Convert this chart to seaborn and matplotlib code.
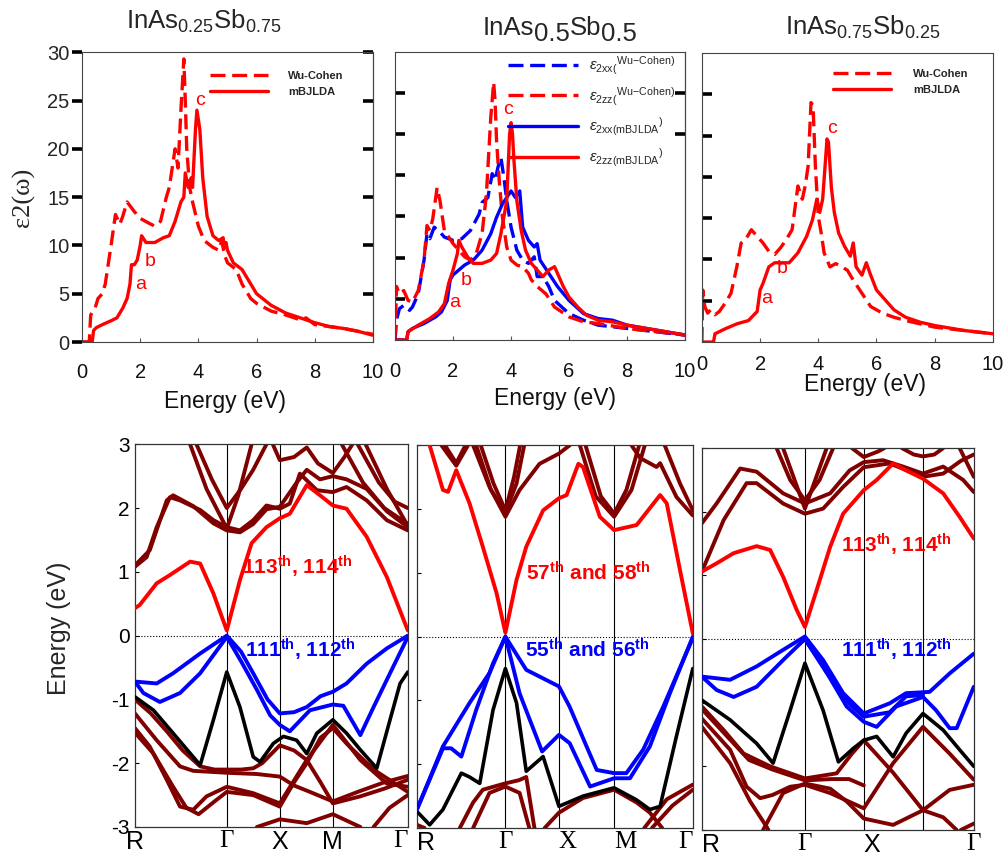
import matplotlib
matplotlib.use("Agg")
import matplotlib.pyplot as plt
import seaborn as sns

sns.set_theme(style="ticks")
plt.rcParams["font.family"] = ["Liberation Sans", "DejaVu Sans"]
plt.rcParams["mathtext.fontset"] = "custom"
plt.rcParams["mathtext.rm"] = "Liberation Sans"
plt.rcParams["mathtext.it"] = "Liberation Sans:italic"
plt.rcParams["mathtext.bf"] = "Liberation Sans:bold"

RED, BLUE, MAROON, BLACK = "#ff0000", "#0000ff", "#800000", "#000000"

# ---------------- imaginary dielectric function eps2(w) ----------------
# InAs0.25Sb0.75
x25_mbj_E = [0, 0.35, 0.4, 0.5, 0.7, 1.0, 1.2, 1.4, 1.55, 1.65, 1.7, 1.8, 1.9, 2.0, 2.05, 2.2, 2.5, 2.8, 3.0,
             3.2, 3.4, 3.5, 3.55, 3.65, 3.75, 3.8, 3.9, 3.95, 4.05, 4.15, 4.3, 4.5, 4.7, 4.85, 4.9, 4.95, 5.0,
             5.2, 5.5, 5.8, 6.0, 6.5, 7.0, 7.5, 8.0, 8.5, 9.0, 9.5, 10.0]
x25_mbj_eps = [0, 0, 1.2, 1.5, 1.8, 2.2, 2.5, 3.5, 4.5, 6.0, 8.0, 8.0, 8.5, 10.0, 11.0, 10.3, 10.3, 10.8, 11.0,
               12.5, 14.5, 15.0, 17.5, 16.0, 17.0, 16.0, 22.0, 24.0, 22.0, 17.0, 13.0, 11.0, 10.5, 10.8, 9.8,
               10.3, 9.5, 8.2, 7.5, 6.0, 5.0, 3.8, 3.0, 2.5, 2.0, 1.6, 1.4, 1.1, 0.7]
x25_wc_E = [0, 0.25, 0.3, 0.45, 0.55, 0.7, 0.8, 1.0, 1.15, 1.3, 1.4, 1.55, 1.8, 2.0, 2.3, 2.5, 2.7, 2.9, 3.0,
            3.2, 3.3, 3.4, 3.5, 3.55, 3.6, 3.7, 3.8, 4.0, 4.2, 4.5, 4.7, 4.8, 4.9, 5.0, 5.3, 5.5, 5.8, 6.0,
            6.5, 7.0, 7.5, 7.7, 8.0, 9.0, 10.0]
x25_wc_eps = [0, 0, 2.8, 3.5, 4.5, 5.0, 6.0, 10.0, 13.2, 12.2, 13.0, 14.5, 13.5, 12.8, 12.3, 12.0, 12.5, 15.0,
              16.0, 20.0, 18.0, 24.0, 29.3, 25.0, 20.0, 16.0, 14.5, 12.0, 10.5, 9.8, 9.5, 10.5, 9.0, 8.2, 7.5,
              6.0, 4.5, 4.0, 3.2, 2.8, 2.3, 2.5, 1.8, 1.4, 0.8]

# InAs0.5Sb0.5
x50_xx_wc_E = [0, 0.05, 0.15, 0.3, 0.5, 0.6, 0.8, 1.0, 1.1, 1.2, 1.35, 1.5, 1.7, 2.0, 2.3, 2.6, 2.9, 3.0, 3.2,
               3.35, 3.45, 3.55, 3.65, 3.75, 3.85, 4.0, 4.2, 4.4, 4.6, 4.8, 4.9, 5.1, 5.3, 5.5, 6.0, 6.5, 7.0,
               8.0, 9.0, 10.0]
x50_xx_wc_eps = [0, 2.4, 3.8, 4.2, 3.6, 4.0, 5.6, 9.7, 12.9, 12.3, 13.7, 13.3, 12.5, 12.1, 12.3, 13.3, 15.3,
                 16.7, 17.3, 20.2, 19.4, 21.0, 22.2, 19.8, 17.0, 13.7, 10.9, 9.7, 9.3, 10.1, 7.7, 7.7, 6.5,
                 4.8, 3.2, 2.4, 1.8, 1.4, 1.0, 0.6]
x50_zz_wc_E = [0, 0.05, 0.15, 0.3, 0.45, 0.6, 0.8, 1.0, 1.1, 1.2, 1.3, 1.45, 1.55, 1.7, 2.0, 2.2, 2.4, 2.6,
               2.8, 3.0, 3.15, 3.3, 3.4, 3.45, 3.5, 3.6, 3.7, 3.85, 4.0, 4.2, 4.4, 4.6, 4.7, 4.9, 5.2, 5.5,
               6.0, 6.5, 7.0, 8.0, 9.0, 10.0]
x50_zz_wc_eps = [0, 6.5, 5.6, 6.0, 4.8, 4.6, 6.0, 9.7, 13.9, 13.3, 14.7, 18.5, 16.9, 13.3, 11.7, 10.9, 10.1,
                 9.7, 10.5, 12.9, 17.7, 27.0, 31.3, 29.0, 24.2, 19.0, 15.0, 11.3, 9.7, 9.1, 8.9, 8.1, 7.3,
                 6.5, 5.6, 4.0, 2.8, 2.2, 2.0, 1.4, 1.0, 0.6]
x50_xx_mbj_E = [0, 0.4, 0.45, 0.6, 1.0, 1.4, 1.6, 1.8, 1.9, 2.0, 2.2, 2.4, 2.7, 3.0, 3.3, 3.5, 3.7, 3.85, 4.0,
                4.15, 4.3, 4.4, 4.6, 4.8, 4.9, 5.0, 5.3, 5.6, 6.0, 6.5, 7.0, 7.5, 8.0, 9.0, 10.0]
x50_xx_mbj_eps = [0, 0, 1.0, 1.4, 2.0, 2.8, 3.4, 4.8, 7.3, 7.9, 8.5, 9.1, 9.7, 10.9, 12.9, 14.9, 16.5, 17.3,
                  18.1, 17.3, 18.1, 13.7, 12.1, 11.3, 11.7, 9.7, 8.1, 6.5, 4.8, 3.2, 2.6, 2.4, 1.8, 1.2, 0.6]
x50_zz_mbj_E = [0, 0.4, 0.45, 0.8, 1.2, 1.5, 1.7, 1.85, 2.0, 2.15, 2.2, 2.3, 2.5, 2.7, 3.0, 3.3, 3.5, 3.65,
                3.75, 3.85, 3.9, 3.95, 4.0, 4.05, 4.1, 4.2, 4.35, 4.5, 4.7, 4.9, 5.1, 5.3, 5.5, 5.6, 5.8, 6.0,
                6.3, 6.6, 7.0, 7.5, 8.0, 9.0, 10.0]
x50_zz_mbj_eps = [0, 0, 1.0, 1.8, 2.6, 3.4, 4.4, 6.9, 8.5, 10.5, 12.1, 11.3, 10.1, 9.3, 9.3, 9.7, 10.5, 12.9,
                  14.9, 16.9, 21.0, 25.0, 26.4, 25.0, 21.8, 16.9, 13.3, 10.9, 9.3, 8.5, 7.7, 8.5, 8.9, 8.1,
                  6.5, 5.2, 4.0, 3.0, 2.4, 2.2, 1.8, 1.2, 0.6]

# InAs0.75Sb0.25
x75_wc_E = [0, 0.03, 0.1, 0.2, 0.3, 0.45, 0.6, 0.8, 1.0, 1.2, 1.35, 1.5, 1.7, 1.9, 2.1, 2.3, 2.5, 2.7, 2.9,
            3.1, 3.3, 3.45, 3.55, 3.65, 3.75, 3.82, 3.9, 4.0, 4.1, 4.2, 4.4, 4.6, 4.8, 5.0, 5.2, 5.5, 5.8, 6.2,
            6.6, 7.0, 8.0, 9.0, 10.0]
x75_wc_eps = [0, 6.3, 4.3, 3.5, 3.9, 3.3, 3.7, 4.7, 5.9, 9.1, 12.0, 12.4, 13.6, 12.8, 12.0, 11.0, 10.6, 11.4,
              12.4, 13.6, 18.9, 17.3, 18.9, 21.3, 29.0, 28.6, 21.3, 15.2, 13.2, 10.8, 9.1, 9.5, 9.1, 8.7, 7.5,
              5.9, 4.3, 3.5, 3.0, 2.6, 1.8, 1.4, 1.0]
x75_mbj_E = [0, 0.4, 0.45, 0.8, 1.2, 1.6, 1.9, 2.0, 2.1, 2.3, 2.5, 2.7, 3.0, 3.3, 3.6, 3.8, 3.95, 4.05, 4.15,
             4.2, 4.3, 4.35, 4.45, 4.55, 4.7, 4.9, 5.1, 5.2, 5.3, 5.5, 5.65, 5.8, 6.0, 6.3, 6.6, 7.0, 7.5, 8.0,
             9.0, 10.0]
x75_mbj_eps = [0, 0, 1.0, 1.6, 2.2, 2.6, 3.7, 6.3, 7.1, 9.1, 9.6, 9.6, 9.6, 10.8, 12.8, 14.8, 17.3, 15.7,
               17.3, 19.7, 24.6, 24.2, 18.7, 15.7, 13.2, 11.6, 10.4, 12.0, 9.1, 8.1, 9.6, 8.1, 6.3, 5.1, 3.9,
               3.0, 2.4, 2.0, 1.4, 1.0]

# ---------------- band structures (k, E) ----------------
k_nodes_25 = [0, 1.732, 2.732, 3.732, 5.146]
k_labels_25 = ["R", "Γ", "X", "M", "Γ"]
bs25_red = [[(0, 0.43), (0.09, 0.48), (0.41, 0.82), (0.66, 0.95), (1.04, 1.16), (1.23, 1.13), (1.48, 0.66),
             (1.732, 0.08), (1.98, 0.87), (2.2, 1.45), (2.48, 1.70), (2.732, 1.84), (2.92, 1.91), (3.24, 2.36),
             (3.49, 2.20), (3.732, 2.04), (3.99, 1.99), (4.37, 1.55), (4.75, 0.92), (5.146, 0.08)]]
bs25_blue = [[(0, -0.72), (0.41, -0.75), (0.72, -0.59), (1.23, -0.28), (1.732, 0.0), (2.0, -0.25), (2.23, -0.59),
              (2.5, -1.0), (2.732, -1.22), (3.0, -1.2), (3.24, -1.12), (3.5, -0.95), (3.732, -0.88),
              (3.99, -0.75), (4.37, -0.44), (4.75, -0.2), (5.146, 0.0)],
             [(0, -0.72), (0.16, -0.9), (0.47, -1.04), (0.85, -0.9), (1.23, -0.59), (1.732, -0.02), (2.0, -0.4),
              (2.3, -0.85), (2.55, -1.25), (2.732, -1.40), (2.92, -1.50), (3.3, -1.17), (3.732, -1.08),
              (3.93, -1.10), (4.25, -1.56), (4.5, -1.12), (4.81, -0.59), (5.146, -0.02)]]
bs25_black = [[(0, -0.96), (0.35, -1.17), (0.72, -1.53), (1.23, -2.03), (1.48, -1.32), (1.732, -0.57),
               (1.98, -1.12), (2.23, -1.9), (2.36, -1.98), (2.61, -1.69), (2.8, -1.58), (3.05, -1.64),
               (3.24, -1.85), (3.43, -1.53), (3.732, -1.32), (3.99, -1.53), (4.25, -1.79), (4.56, -2.08),
               (4.81, -1.32), (5.0, -0.75), (5.146, -0.57)]]
bs25_maroon = [
    [(0, 1.08), (0.22, 1.23), (0.41, 1.7), (0.66, 2.17), (0.85, 2.12), (1.23, 1.97), (1.48, 1.81), (1.732, 1.70),
     (1.98, 1.65), (2.23, 1.81), (2.48, 2.04), (2.732, 1.99), (2.92, 2.07), (3.11, 2.54), (3.43, 2.28),
     (3.732, 2.25), (3.99, 2.33), (4.37, 2.12), (4.75, 1.81), (5.146, 1.65)],
    [(0, 1.1), (0.28, 1.34), (0.6, 2.12), (0.72, 2.2), (1.1, 2.03), (1.48, 1.76), (1.732, 1.65), (1.98, 1.62),
     (2.23, 1.75), (2.48, 1.98), (2.732, 2.02), (3.05, 2.4), (3.24, 2.6), (3.49, 2.45), (3.732, 2.5),
     (3.99, 2.45), (4.37, 2.3), (4.75, 1.95), (5.146, 1.7)],
    [(1.16, 3.0), (1.45, 2.45), (1.732, 2.0), (2.0, 2.3), (2.23, 2.6), (2.48, 3.0)],
    [(1.04, 3.0), (1.35, 2.3), (1.732, 1.68), (1.95, 2.2), (2.2, 3.0)],
    [(2.6, 3.0), (2.732, 2.75), (3.0, 2.8), (3.24, 2.95), (3.45, 2.7), (3.732, 2.55), (3.95, 2.8), (4.1, 3.0)],
    [(4.2, 3.0), (4.6, 2.4), (4.9, 2.1), (5.146, 2.0)],
    [(4.35, 3.0), (4.75, 2.3), (5.146, 1.72)],
    [(3.9, 3.0), (4.3, 2.4), (4.7, 2.0), (5.146, 1.75)],
    [(0, -1.0), (0.3, -1.22), (0.6, -1.5), (0.9, -1.8), (1.23, -2.05), (1.5, -2.1), (1.732, -2.1), (2.0, -2.1),
     (2.23, -2.08), (2.4, -2.0), (2.732, -1.72), (3.0, -1.8), (3.24, -1.95), (3.5, -2.3), (3.732, -2.63),
     (4.25, -2.52), (4.7, -2.4), (5.146, -2.26)],
    [(0, -1.22), (0.41, -1.64), (0.85, -2.05), (1.1, -2.12), (1.732, -2.15), (2.3, -2.17), (2.732, -2.21),
     (3.0, -2.35), (3.3, -2.45), (3.732, -2.6), (4.2, -2.45), (4.7, -2.3), (5.146, -2.2)],
    [(0, -1.45), (0.28, -1.74), (0.6, -2.26), (0.85, -2.68), (1.1, -2.73), (1.35, -2.52), (1.732, -2.37),
     (2.23, -2.47), (2.732, -2.63), (3.24, -1.95), (3.732, -1.4), (4.25, -1.95), (4.75, -2.32), (5.146, -2.37)],
    [(0, -1.52), (0.35, -1.85), (0.72, -2.37), (0.97, -2.7), (1.2, -2.8), (1.5, -2.6), (1.732, -2.45),
     (2.23, -2.5), (2.732, -2.68), (3.0, -2.3), (3.24, -2.0), (3.5, -1.6), (3.732, -1.45), (4.0, -1.7),
     (4.5, -2.1), (5.146, -2.45)],
    [(2.3, -3.0), (2.732, -2.88), (3.24, -2.94), (3.732, -2.8), (4.25, -3.0)],
    [(4.5, -3.0), (4.8, -2.7), (5.146, -2.5)],
]

k_nodes_50 = [0, 1.732, 2.78, 3.86, 5.40]
k_labels_50 = ["R", "Γ", "X", "M", "Γ"]
bs50_red = [[(0.25, 3.0), (0.51, 2.3), (0.61, 2.27), (0.77, 2.61), (1.03, 2.09), (1.29, 1.41), (1.56, 0.68),
             (1.732, 0.06), (1.95, 0.89), (2.14, 1.41), (2.47, 1.98), (2.78, 2.17), (2.93, 2.22), (3.16, 2.71),
             (3.25, 2.66), (3.58, 1.88), (3.86, 1.67), (4.3, 1.75), (4.76, 2.22), (4.89, 2.09), (5.15, 1.04),
             (5.40, 0.05)]]
bs50_blue = [[(0, -2.71), (0.25, -2.24), (0.51, -1.75), (0.67, -1.75), (0.87, -1.88), (1.16, -1.15),
              (1.49, -0.42), (1.732, 0.0), (2.14, -0.52), (2.78, -0.78), (2.99, -1.1), (3.32, -1.72),
              (3.52, -2.09), (3.86, -2.14), (4.1, -2.14), (4.43, -1.77), (4.82, -1.1), (5.40, -0.02)],
             [(0, -2.71), (0.51, -1.72), (1.03, -1.04), (1.42, -0.57), (1.732, 0.0), (2.01, -0.89), (2.45, -1.8),
              (2.78, -1.54), (2.99, -1.67), (3.39, -2.35), (3.86, -2.22), (4.17, -2.22), (4.56, -1.72),
              (4.95, -0.89), (5.40, 0.0)]]
bs50_black = [[(0, -2.74), (0.25, -2.95), (0.51, -2.71), (0.87, -2.14), (1.03, -2.2), (1.23, -2.3), (1.49, -1.15),
               (1.732, -0.5), (1.95, -1.04), (2.14, -2.11), (2.47, -1.88), (2.78, -2.66), (3.25, -2.5),
               (3.86, -2.37), (4.3, -2.56), (4.56, -2.71), (4.76, -2.66), (5.08, -1.56), (5.40, -0.5)]]
bs50_maroon = [
    [(1.1, 3.0), (1.42, 2.35), (1.732, 1.88), (2.01, 2.3), (2.4, 2.71), (2.78, 2.87), (2.99, 3.0)],
    [(1.16, 3.0), (1.45, 2.3), (1.732, 1.95), (1.95, 2.4), (2.1, 3.0)],
    [(1.25, 3.0), (1.5, 2.4), (1.732, 1.98), (1.9, 2.5), (2.02, 3.0)],
    [(3.19, 3.0), (3.5, 2.2), (3.86, 1.88), (4.2, 2.3), (4.46, 3.0)],
    [(3.3, 3.0), (3.6, 2.2), (3.86, 1.93), (4.1, 2.3), (4.35, 3.0)],
    [(0.48, 3.0), (0.77, 2.68), (1.0, 3.0)],
    [(0.55, 3.0), (0.77, 2.72), (0.95, 3.0)],
    [(4.2, 3.0), (4.37, 2.8), (4.69, 2.66), (4.76, 2.72), (5.08, 2.19), (5.40, 1.9)],
    [(4.85, 3.0), (5.15, 2.4), (5.40, 1.98)],
    [(0.84, -3.0), (1.1, -2.6), (1.29, -2.4), (1.732, -2.3), (2.0, -2.25), (2.14, -2.2), (2.3, -3.0)],
    [(1.1, -3.0), (1.42, -2.45), (1.732, -2.35), (2.01, -2.45), (2.2, -3.0)],
    [(2.5, -3.0), (2.78, -2.76), (3.25, -2.53), (3.86, -2.4), (4.3, -2.6), (4.56, -2.76), (4.8, -3.0)],
    [(4.45, -3.0), (4.89, -2.55), (5.40, -2.32)],
    [(4.6, -3.0), (5.0, -2.65), (5.40, -2.4)],
    [(0, -2.95), (0.15, -3.0)],
]

k_nodes_75 = [0, 1.751, 2.751, 3.757, 4.62]
k_labels_75 = ["R", "Γ", "X", "", "Γ"]
bs75_red = [[(0, 1.06), (0.25, 1.19), (0.54, 1.35), (0.93, 1.46), (1.16, 1.4), (1.38, 0.98), (1.61, 0.46),
             (1.751, 0.19), (1.95, 0.77), (2.18, 1.45), (2.4, 1.97), (2.751, 2.34), (2.97, 2.5), (3.25, 2.76),
             (3.47, 2.65), (3.757, 2.52), (4.1, 2.29), (4.38, 1.92), (4.62, 1.58)]]
bs75_blue = [[(0, -0.59), (0.48, -0.64), (0.93, -0.43), (1.38, -0.17), (1.751, 0.04), (2.06, -0.33), (2.4, -0.85),
              (2.751, -1.17), (3.19, -1.01), (3.47, -0.85), (3.87, -0.83), (4.21, -0.54), (4.62, -0.23)],
             [(0, -0.59), (0.25, -0.8), (0.54, -0.91), (0.93, -0.75), (1.38, -0.33), (1.751, 0.0), (2.06, -0.43),
              (2.46, -1.06), (2.751, -1.3), (2.97, -1.38), (3.3, -1.06), (3.757, -0.91), (3.98, -1.12),
              (4.21, -1.4), (4.33, -1.4), (4.62, -0.75)],
             [(1.751, 0.0), (2.1, -0.5), (2.46, -0.98), (2.751, -1.22), (3.19, -1.15), (3.47, -0.9),
              (3.757, -0.88)]]
bs75_black = [[(0, -0.96), (0.48, -1.27), (0.93, -1.64), (1.21, -1.95), (1.5, -1.12), (1.751, -0.38),
               (2.06, -1.12), (2.32, -1.93), (2.57, -1.72), (2.751, -1.59), (2.97, -1.53), (3.25, -1.85),
               (3.47, -1.48), (3.757, -1.17), (4.1, -1.43), (4.38, -1.74), (4.62, -2.0)]]
bs75_maroon = [
    [(0, 1.82), (0.25, 2.13), (0.65, 2.68), (0.93, 2.63), (1.38, 2.29), (1.751, 2.13), (2.18, 2.29),
     (2.51, 2.65), (2.751, 2.78), (3.08, 2.81), (3.42, 2.71), (3.757, 2.6), (4.1, 2.71), (4.44, 2.5),
     (4.62, 2.31)],
    [(0, 1.06), (0.37, 1.87), (0.76, 2.45), (0.93, 2.45), (1.38, 2.13), (1.751, 1.97), (2.06, 2.05),
     (2.4, 2.39), (2.751, 2.7), (3.19, 2.76), (3.757, 2.55), (4.1, 2.6), (4.4, 2.8), (4.62, 2.9)],
    [(1.27, 3.0), (1.5, 2.5), (1.751, 2.18), (2.0, 2.5), (2.23, 3.0)],
    [(1.38, 3.0), (1.751, 2.05), (2.12, 3.0)],
    [(3.4, 3.0), (3.6, 2.9), (3.757, 2.87), (3.95, 2.9), (4.1, 3.0)],
    [(4.38, 3.0), (4.62, 2.55)],
    [(2.55, 3.0), (2.751, 2.86), (3.0, 2.95), (3.1, 3.0)],
    [(0, -1.06), (0.37, -1.43), (0.71, -1.8), (1.16, -2.0), (1.751, -2.19), (2.29, -2.11), (2.55, -1.8),
     (2.751, -1.59), (3.25, -2.1), (3.757, -2.69), (4.1, -2.8), (4.33, -3.0)],
    [(0, -1.25), (0.48, -1.74), (0.76, -2.32), (0.99, -2.5), (1.2, -2.45), (1.5, -2.32), (1.751, -2.29),
     (2.18, -2.42), (2.751, -2.66), (3.25, -1.95), (3.757, -1.38), (4.21, -1.8), (4.62, -2.21)],
    [(0, -1.38), (0.48, -1.95), (0.82, -2.55), (1.1, -2.95), (1.13, -3.0)],
    [(1.04, -3.0), (1.38, -2.42), (1.751, -2.27), (2.18, -2.35), (2.46, -2.55), (2.751, -2.82), (3.25, -2.92),
     (3.757, -2.69), (4.21, -2.37), (4.62, -2.29)],
    [(0, -1.1), (0.4, -1.5), (0.8, -1.9), (1.2, -2.05), (1.751, -2.22), (2.2, -2.2), (2.5, -2.2),
     (2.751, -2.3)],
    [(4.4, -3.0), (4.62, -2.9)],
]

# ---------------- figure ----------------
fig = plt.figure(figsize=(10.07, 8.6), dpi=100)
ax1 = fig.add_axes([0.0814, 0.6023, 0.289, 0.337])
ax2 = fig.add_axes([0.3923, 0.6047, 0.288, 0.335])
ax3 = fig.add_axes([0.697, 0.6023, 0.289, 0.336])
ax4 = fig.add_axes([0.134, 0.0384, 0.271, 0.445])
ax5 = fig.add_axes([0.414, 0.0372, 0.274, 0.445])
ax6 = fig.add_axes([0.697, 0.0349, 0.270, 0.444])

DASH = (0, (4.5, 2.0))


def spectrum(ax, E, eps, color, dashed):
    sns.lineplot(x=E, y=eps, ax=ax, color=color, linewidth=2.4, sort=False, estimator=None,
                 linestyle=DASH if dashed else "-", legend=False)
    return ax.lines[-1]


def style_spectrum(ax, ylim, yticks, labels, xpad, xlabel_xy, ydir):
    ax.set_xlim(0, 10)
    ax.set_ylim(*ylim)
    ax.set_xticks([0, 2, 4, 6, 8, 10])
    ax.set_xticklabels(["0", "2", "4", "6", "8", "10"])
    ax.set_yticks(yticks)
    if labels:
        ax.set_yticklabels([str(t) for t in yticks])
    else:
        ax.set_yticklabels([])
    ax.tick_params(axis="x", direction="in", length=3, width=0.8, color="#555555", pad=xpad,
                   labelsize=14.5, labelcolor="#111111")
    ax.tick_params(axis="y", direction=ydir, length=7, width=2.6, pad=2, labelsize=14.5, color="black")
    for s in ax.spines.values():
        s.set_color("#444444")
        s.set_linewidth(0.8)
    ax.set_xlabel("Energy (eV)", fontsize=16.5, color="#111111")
    ax.xaxis.set_label_coords(*xlabel_xy)
    ax.set_ylabel("")


# InAs0.25Sb0.75 spectrum
h_wc = spectrum(ax1, x25_wc_E, x25_wc_eps, RED, True)
h_mbj = spectrum(ax1, x25_mbj_E, x25_mbj_eps, RED, False)
style_spectrum(ax1, (0, 30), [0, 5, 10, 15, 20, 25, 30], True, 15, (0.49, -0.165), "out")
ax1.text(0.42, 1.105, r"InAs$_{0.25}$Sb$_{0.75}$", transform=ax1.transAxes, ha="center", va="center",
         fontsize=18.5)
sec1 = ax1.secondary_yaxis("right")
sec1.set_yticks([5, 10, 15, 20, 25, 30])
sec1.set_yticklabels([])
sec1.tick_params(direction="in", length=7, width=2.6, color="black")
sec1.spines["right"].set_color("#444444")
sec1.spines["right"].set_linewidth(0.8)
ax1.set_ylabel("ε2(ω)", fontsize=19, family=["Liberation Serif", "DejaVu Serif"])
ax1.yaxis.set_label_coords(-0.16, 0.5)
ax1.legend([h_wc, h_mbj], ["Wu-Cohen", "mBJLDA"], loc="upper left", bbox_to_anchor=(0.44, 0.935),
           frameon=False, handlelength=5.2, handletextpad=1.8, labelspacing=0.55, borderpad=0,
           borderaxespad=0, prop={"size": 8, "weight": "bold"})
for txt, x, y in [("a", 2.0, 6.0), ("b", 2.35, 8.3), ("c", 4.05, 25.0)]:
    ax1.text(x, y, txt, color=RED, fontsize=14, ha="center", va="center")

# InAs0.5Sb0.5 spectrum
h1 = spectrum(ax2, x50_xx_wc_E, x50_xx_wc_eps, BLUE, True)
h2 = spectrum(ax2, x50_zz_wc_E, x50_zz_wc_eps, RED, True)
h3 = spectrum(ax2, x50_xx_mbj_E, x50_xx_mbj_eps, BLUE, False)
h4 = spectrum(ax2, x50_zz_mbj_E, x50_zz_mbj_eps, RED, False)
style_spectrum(ax2, (0, 35), [5, 10, 15, 20, 25, 30], False, 16, (0.55, -0.165), "in")
# title with lowered, full-size composition indices
title_parts = [("InAs", 0), ("0.5", -6), ("Sb", 0), ("0.5", -6)]
renderer = fig.canvas.get_renderer()
widths = []
for s, _ in title_parts:
    t = fig.text(0, 0, s, fontsize=18.5)
    widths.append(t.get_window_extent(renderer).width)
    t.remove()
x_px = 560 - sum(widths) / 2
for (s, dy), w in zip(title_parts, widths):
    fig.text(x_px / 1007, 1 - (35 - dy) / 860, s, fontsize=18.5, ha="left", va="baseline")
    x_px += w
sec2 = ax2.secondary_yaxis("right")
sec2.set_yticks([25, 30])
sec2.set_yticklabels([])
sec2.tick_params(direction="in", length=7, width=2.6, color="black")
sec2.spines["right"].set_color("#444444")
sec2.spines["right"].set_linewidth(0.8)
ax2.legend([h1, h2, h3, h4],
           [r"$\varepsilon_{\mathrm{2xx(}}{}^{\mathrm{Wu{-}Cohen)}}$",
            r"$\varepsilon_{\mathrm{2zz(}}{}^{\mathrm{Wu{-}Cohen)}}$",
            r"$\varepsilon_{\mathrm{2xx(mBJLDA}}{}^{)}$",
            r"$\varepsilon_{\mathrm{2zz(mBJLDA}}{}^{)}$"],
           loc="upper left", bbox_to_anchor=(0.39, 0.99), frameon=False, handlelength=4.6,
           handletextpad=0.7, labelspacing=0.55, borderpad=0, borderaxespad=0,
           prop={"size": 11})
for txt, x, y in [("a", 2.07, 4.6), ("b", 2.45, 7.2), ("c", 3.9, 28.0)]:
    ax2.text(x, y, txt, color=RED, fontsize=14, ha="center", va="center")

# InAs0.75Sb0.25 spectrum
g_wc = spectrum(ax3, x75_wc_E, x75_wc_eps, RED, True)
g_mbj = spectrum(ax3, x75_mbj_E, x75_mbj_eps, RED, False)
style_spectrum(ax3, (0, 35), [5, 10, 15, 20, 25, 30], False, 9, (0.56, -0.108), "in")
ax3.text(0.553, 1.09, r"InAs$_{0.75}$Sb$_{0.25}$", transform=ax3.transAxes, ha="center", va="center",
         fontsize=18.5)
ax3.legend([g_wc, g_mbj], ["Wu-Cohen", "mBJLDA"], loc="upper left", bbox_to_anchor=(0.45, 0.945),
           frameon=False, handlelength=5.2, handletextpad=2.0, labelspacing=0.5, borderpad=0,
           borderaxespad=0, prop={"size": 8, "weight": "bold"})
for txt, x, y in [("a", 2.24, 5.3), ("b", 2.77, 8.9), ("c", 4.46, 25.9)]:
    ax3.text(x, y, txt, color=RED, fontsize=14, ha="center", va="center")


# ---------------- band panels ----------------
def bands(ax, groups, color, lw, z):
    for pts in groups:
        k = [p[0] for p in pts]
        e = [p[1] for p in pts]
        sns.lineplot(x=k, y=e, ax=ax, color=color, linewidth=lw, sort=False, estimator=None,
                     legend=False, zorder=z)


def style_bands(ax, nodes, labels, fams, aligns, show_y):
    ax.set_xlim(nodes[0], nodes[-1])
    ax.set_ylim(-3, 3)
    for k in nodes[1:-1]:
        ax.axvline(k, color="black", linewidth=0.8, zorder=1)
    ax.axhline(0, color="black", linewidth=0.8, linestyle=":", zorder=1)
    ax.set_xticks(nodes)
    ax.set_xticklabels(labels)
    for lab, fam, ha in zip(ax.get_xticklabels(), fams, aligns):
        lab.set_fontfamily(fam)
        lab.set_horizontalalignment(ha)
    ax.tick_params(axis="x", length=0, pad=2, labelsize=18, colors="black")
    ax.set_yticks([-3, -2, -1, 0, 1, 2, 3])
    if show_y:
        ax.set_yticklabels(["-3", "-2", "-1", "0", "1", "2", "3"])
    else:
        ax.set_yticklabels([])
    ax.tick_params(axis="y", direction="in", length=3, width=0.8, labelsize=15, pad=4, colors="black")
    for s in ax.spines.values():
        s.set_color("#333333")
        s.set_linewidth(0.9)
    ax.set_xlabel("")
    ax.set_ylabel("")


SANS = ["Liberation Sans"]
SERIF = ["Liberation Serif"]

for ax, grp in [(ax4, (bs25_maroon, bs25_black, bs25_blue, bs25_red)),
                (ax5, (bs50_maroon, bs50_black, bs50_blue, bs50_red)),
                (ax6, (bs75_maroon, bs75_black, bs75_blue, bs75_red))]:
    bands(ax, grp[0], MAROON, 2.8, 2)
    bands(ax, grp[1], BLACK, 2.6, 3)
    bands(ax, grp[2], BLUE, 2.8, 4)
    bands(ax, grp[3], RED, 2.8, 5)

style_bands(ax4, k_nodes_25, k_labels_25, [SANS, SERIF, SANS, SANS, SERIF],
            ["center", "center", "center", "center", "right"], True)
style_bands(ax5, k_nodes_50, k_labels_50, [SANS, SERIF, SERIF, SERIF, SERIF],
            ["left", "center", "left", "left", "right"], False)
style_bands(ax6, k_nodes_75, k_labels_75, [SANS, SERIF, SANS, SANS, SERIF],
            ["left", "center", "left", "center", "center"], False)

ax4.set_ylabel("Energy (eV)", fontsize=18)
ax4.yaxis.set_label_coords(-0.235, 0.52)

note = dict(fontsize=15, fontweight="bold", va="center", ha="left", clip_on=False, zorder=6)
ax4.text(2.02, 1.08, r"113$^{\mathbf{th}}$, 114$^{\mathbf{th}}$", color=RED, **note)
ax4.text(2.08, -0.23, r"111$^{\mathbf{th}}$, 112$^{\mathbf{th}}$", color=BLUE, **note)
ax5.text(2.14, 1.0, r"57$^{\mathbf{th}}$ and 58$^{\mathbf{th}}$", color=RED, **note)
ax5.text(2.11, -0.21, r"55$^{\mathbf{th}}$ and 56$^{\mathbf{th}}$", color=BLUE, **note)
ax6.text(2.37, 1.48, r"113$^{\mathbf{th}}$, 114$^{\mathbf{th}}$", color=RED, **note)
ax6.text(2.37, -0.17, r"111$^{\mathbf{th}}$, 112$^{\mathbf{th}}$", color=BLUE, **note)

fig.savefig("out.png", dpi=100, facecolor="white")
